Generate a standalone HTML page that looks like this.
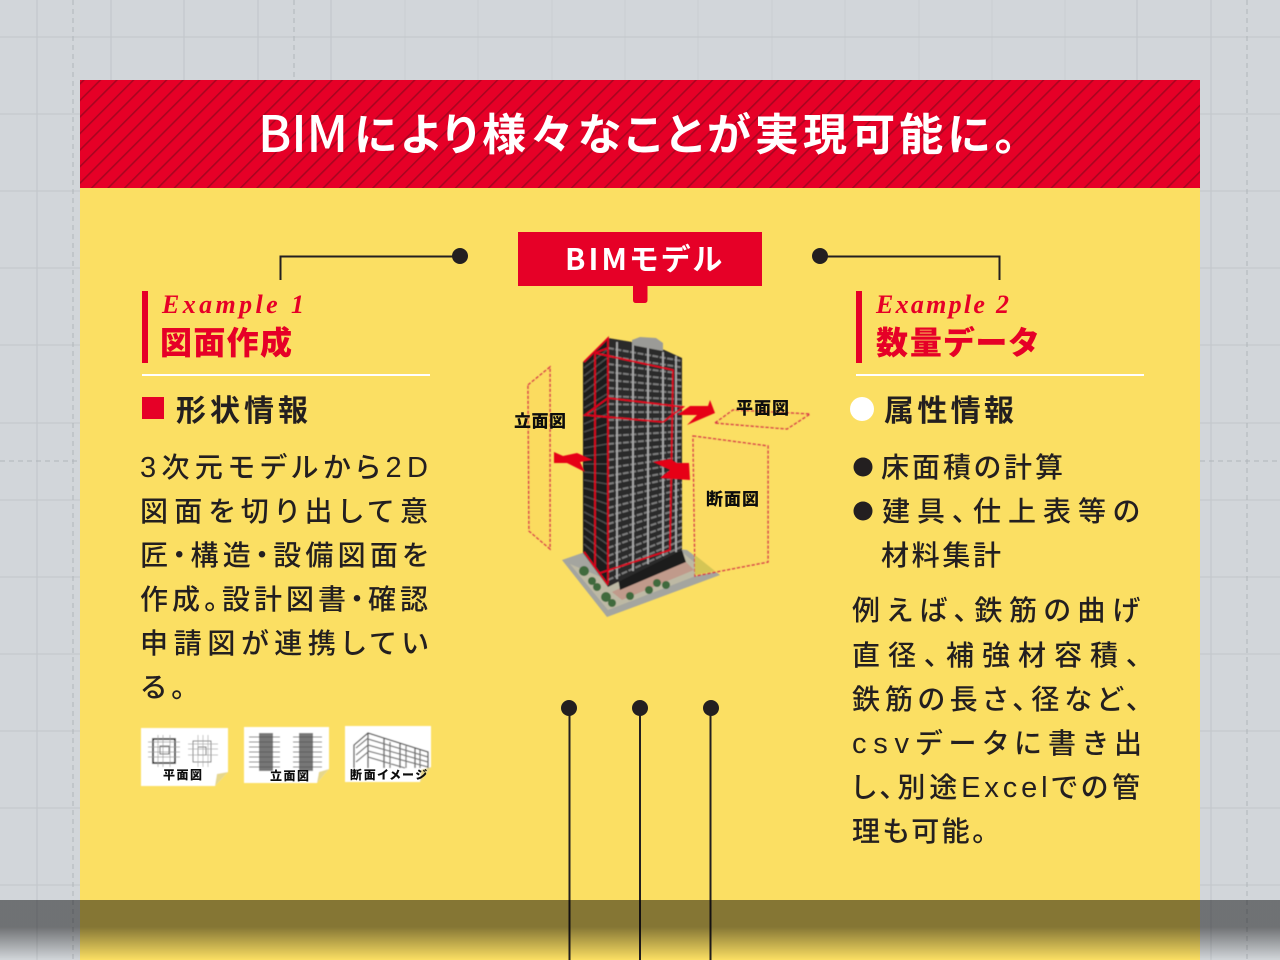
<!DOCTYPE html>
<html lang="ja"><head><meta charset="utf-8"><title>BIM</title>
<style>
html,body{margin:0;padding:0;width:1280px;height:960px;overflow:hidden;background:#d2d6da}
svg{display:block}
text{font-family:"Noto Sans CJK JP",sans-serif;font-feature-settings:"palt"}
.b{font-size:28px;fill:#231f20;font-weight:500}
.a{font-family:"Liberation Sans",sans-serif;font-size:29px}
.h{font-size:30px;fill:#231f20;font-weight:700}
.r{font-size:32px;fill:#e60027;font-weight:900}
.e{font-family:"Liberation Serif",serif;font-style:italic;font-weight:700;font-size:26px;fill:#e60027}
.l{font-size:17px;font-weight:900;fill:#111}
.t{font-size:12px;font-weight:900;fill:#111}
</style></head><body>
<svg width="1280" height="960" viewBox="0 0 1280 960" xmlns="http://www.w3.org/2000/svg">
<defs>
<pattern id="st" width="11.7" height="11.7" patternUnits="userSpaceOnUse" patternTransform="rotate(45 80 80)">
<rect width="11.7" height="11.7" fill="#e60027"/><rect x="0" width="1.6" height="11.7" fill="#a90520"/>
</pattern>
<linearGradient id="sh" x1="0" y1="0" x2="0" y2="1">
<stop offset="0" stop-color="#000" stop-opacity=".47"/><stop offset=".45" stop-color="#000" stop-opacity=".47"/><stop offset="1" stop-color="#000" stop-opacity="0"/>
</linearGradient>
<filter id="bl" x="-5%" y="-5%" width="110%" height="110%"><feGaussianBlur stdDeviation=".6"/></filter>
<filter id="bs" x="-5%" y="-5%" width="110%" height="110%"><feGaussianBlur stdDeviation=".45"/></filter>
<filter id="bt" x="-5%" y="-10%" width="110%" height="120%"><feGaussianBlur stdDeviation=".3"/></filter>
</defs>

<!-- background grid -->
<rect width="1280" height="960" fill="#d2d6da"/>
<path d="M37 0V960M111 0V960M184 0V960M258 0V960M331 0V80M1137 0V80M1211 0V960" stroke="#c0c4c9" stroke-width="1"/>
<path d="M405 0V80M478 0V80M552 0V80M625 0V80M698 0V80M772 0V80M845 0V80M919 0V80M992 0V80M1065 0V80" stroke="#c9cdd1" stroke-width="1"/>
<path d="M0 37H1280M0 114H80M1200 114H1280M0 191H80M1200 191H1280M0 268H80M1200 268H1280M0 345H80M1200 345H1280M0 423H80M1200 423H1280M0 500H80M1200 500H1280M0 577H80M1200 577H1280M0 654H80M1200 654H1280M0 731H80M1200 731H1280M0 808H80M1200 808H1280M0 885H80M1200 885H1280" stroke="#c2c6cb" stroke-width="1"/>
<path d="M73 0V960M1247 0V960M294 0V80M0 461H80M1200 461H1280" stroke="#b0b5ba" stroke-width="1" stroke-dasharray="5 4" fill="none"/>

<!-- panel -->
<rect x="80" y="80" width="1120" height="880" fill="#fbdf63"/>
<rect x="80" y="80" width="1120" height="108" fill="url(#st)"/>
<text x="258" y="152" font-size="50" fill="#fff" font-weight="500" textLength="90" lengthAdjust="spacing">BIM</text>
<text x="354" y="150" font-size="44" fill="#fff" font-weight="700" textLength="662" lengthAdjust="spacing">により様々なことが実現可能に。</text>

<!-- connectors -->
<path d="M280.500 280V256.500H460" fill="none" stroke="#231f20" stroke-width="2"/>
<circle cx="460" cy="256" r="8" fill="#231f20"/>
<path d="M999.500 280V256.500H820" fill="none" stroke="#231f20" stroke-width="2"/>
<circle cx="820" cy="256" r="8" fill="#231f20"/>
<path d="M569.500 708V960M640 708V960M710.500 708V960" stroke="#231f20" stroke-width="2"/>
<circle cx="569" cy="708" r="8" fill="#231f20"/><circle cx="640" cy="708" r="8" fill="#231f20"/><circle cx="711" cy="708" r="8" fill="#231f20"/>

<!-- BIM model label -->
<path d="M518 232H762V286H647.500V300Q647.500 303 644.500 303H636Q633 303 633 300V286H518Z" fill="#e60027"/>
<text x="565" y="270" font-size="30" font-weight="700" fill="#fff" textLength="157" lengthAdjust="spacing">BIMモデル</text>

<!-- Example 1 -->
<rect x="142" y="291" width="6" height="72" fill="#e60027"/>
<text x="162" y="313" class="e" textLength="142" lengthAdjust="spacing">Example 1</text>
<text x="160" y="354" class="r" textLength="132" lengthAdjust="spacing">図面作成</text>
<rect x="142" y="374" width="288" height="2" fill="#fff"/>
<rect x="142" y="397" width="22" height="22" fill="#e60027"/>
<text x="176" y="421" class="h" textLength="132" lengthAdjust="spacing">形状情報</text>
<text x="140" y="477" class="b" textLength="288" lengthAdjust="spacing"><tspan class="a">3</tspan>次元モデルから<tspan class="a">2D</tspan></text>
<text x="140" y="521" class="b" textLength="288" lengthAdjust="spacing">図面を切り出して意</text>
<text x="140" y="565" class="b" textLength="288" lengthAdjust="spacing">匠・構造・設備図面を</text>
<text x="140" y="609" class="b" textLength="288" lengthAdjust="spacing">作成。設計図書・確認</text>
<text x="140" y="653" class="b" textLength="288" lengthAdjust="spacing">申請図が連携してい</text>
<text x="141" y="697" class="b" textLength="44" lengthAdjust="spacing">る。</text>

<!-- thumbnails -->
<g filter="url(#bs)">
<path d="M141 728H228V772L215 786H141Z" fill="#fff"/>
<path d="M228 772L215 786L217 774Z" fill="#e6d78c"/>
<g fill="none" stroke="#555" stroke-width="1">
<rect x="153" y="739" width="22" height="24" stroke-width="1.800" stroke="#333"/><rect x="160" y="746" width="9" height="8" stroke="#555"/>
<path d="M148 742H180M148 747H180M148 752H180M148 757H180M158 735V767M163 735V767M170 735V767" stroke="#999" stroke-width=".7"/>
<rect x="193" y="741" width="18" height="21" stroke="#777"/><rect x="198" y="747" width="8" height="8" stroke="#666"/>
<path d="M188 744H218M188 749H218M188 755H218M198 735V767M203 735V767M208 735V767" stroke="#aaa" stroke-width=".7"/>
</g>
<path d="M244 727H329V769L317 783H244Z" fill="#fff"/>
<path d="M329 769L317 783L319 772Z" fill="#e6d78c"/>
<rect x="259" y="733" width="14" height="38" fill="#777"/><rect x="299" y="733" width="14" height="38" fill="#777"/>
<path d="M249 737H280M249 742H280M249 747H280M249 752H280M249 757H280M249 762H280M249 767H280M293 737H322M293 742H322M293 747H322M293 752H322M293 757H322M293 762H322M293 767H322" stroke="#555" stroke-width=".8"/>
<path d="M345 726H431V767L420 782H345Z" fill="#fff"/>
<path d="M431 767L420 782L421 770Z" fill="#e6d78c"/>
<g fill="none" stroke="#555" stroke-width="1.300">
<path d="M354 768V745L368 733L428 752V768M368 733V768M384 738V768M400 743V768M415 748V768"/>
<path d="M368 739L428 757M368 745L428 762M368 751L428 767M368 757L405 768M356 748L368 738M356 755L368 745M356 762L368 752M384 740V768M390 742V768M406 746V768M420 750V768" stroke="#777"/>
</g>
</g>
<g filter="url(#bt)">
<text x="163" y="779" class="t" textLength="39" lengthAdjust="spacing">平面図</text>
<text x="270" y="780" class="t" textLength="39" lengthAdjust="spacing">立面図</text>
<text x="350" y="779" class="t" textLength="77" lengthAdjust="spacing">断面イメージ</text>
</g>

<!-- building -->
<g filter="url(#bl)">
<path d="M562 560L607 617L720 575L687 550L640 545L585 552Z" fill="#a4a59f"/>
<path d="M570 564L608 610L706 572L682 552L608 580Z" fill="#bdb9a4"/>
<path d="M612 592L682 558L694 570L622 600Z" fill="#c09a8b"/>
<path d="M618 578L682 550L686 562L620 590Z" fill="#1e1e1e"/>
<g fill="#3f6a3c">
<circle cx="584" cy="571" r="5"/><circle cx="592" cy="581" r="4"/><circle cx="597" cy="587" r="4"/><circle cx="606" cy="597" r="5"/><circle cx="612" cy="603" r="4"/><circle cx="630" cy="596" r="4"/><circle cx="649" cy="590" r="4"/><circle cx="657" cy="583" r="4"/><circle cx="666" cy="585" r="4"/>
</g>
<path d="M608 338L583 362V553L608 587Z" fill="#1d1d1d"/>
<path d="M608 338L632 342L660 348L682 358V550L608 587Z" fill="#2b2b2b"/>
<path d="M632 340L640 337L656 338L663 343V351L632 345Z" fill="#9b9b97"/>
<g fill="none" stroke="#7a7a7a" stroke-width="2" stroke-dasharray="6 1.500">
<path d="M608 348L682 361M608 356L682 367.400M608 364L682 373.800M608 372L682 380.200M608 380L682 386.600M608 388L682 393M608 396L682 399.400M608 404L682 405.800M608 412L682 412.200M608 420L682 418.600M608 428L682 425M608 436L682 431.400M608 444L682 437.800M608 452L682 444.200M608 460L682 450.600M608 468L682 457M608 476L682 463.400M608 484L682 469.800M608 492L682 476.200M608 500L682 482.600M608 508L682 489M608 516L682 495.400M608 524L682 501.800M608 532L682 508.200M608 540L682 514.600M608 548L682 521M608 556L682 527.400M608 564L682 533.800M608 572L682 540.200M608 580L682 546.600"/>
</g>
<path d="M617 342V579M633 345V571M648 348V564M663 352V556M676 356V552" stroke="#aaa" stroke-width="1.800" fill="none"/>
<path d="M584 368L607 350M584 376L607 358M584 384L607 366M584 392L607 374M584 400L607 384M584 408L607 394M584 416L607 404M584 424L607 414M584 432L607 424M584 440L607 434M584 448L607 444M584 456L607 454M584 464L607 464M584 472L607 474M584 480L607 484M584 488L607 494M584 496L607 504M584 504L607 514M584 512L607 524M584 520L607 534M584 528L607 544M584 536L607 554M584 544L607 564" stroke="#4a4a4a" stroke-width="1.600" fill="none"/>
<g fill="none" stroke="#e2001e" stroke-width="1.700">
<path d="M584 362L608 338V583M595 353V568M595 353L673 370L670 550L600 573M584 552L608 585M595 353L608 348"/>
<path d="M585 415L608 398L683 407L663 422Z"/>
</g>
</g>
<g filter="url(#bs)">
<path d="M528 385L550 367V549L529 531Z" fill="#fbdb5e" stroke="#d8324a" stroke-width="1.400" stroke-dasharray="3.500 1.500"/>
<path d="M715 423L733 410L810 414L787 429Z" fill="#fbdb5e" stroke="#d8324a" stroke-width="1.400" stroke-dasharray="3.500 1.500"/>
<path d="M693 436L768 446V562L695 576Z" fill="#fbdc64" stroke="#d8324a" stroke-width="1.400" stroke-dasharray="3.500 1.500"/>
<path d="M695 555L695 575L715 571Z" fill="#d4c555"/>
<path d="M677 415L690 406L708 406L710 400L715 413L687 425L697 415Z" fill="#e60018"/>
<path d="M554 452L563 456L577 453L593 460L580 462L585 472L567 463L554 463Z" fill="#e60018"/>
<path d="M653 462L670 459L677 463L689 463L690 480L660 478L670 470Z" fill="#e60018"/>
</g>
<g filter="url(#bt)">
<text x="514" y="427" class="l" textLength="52" lengthAdjust="spacing">立面図</text>
<text x="736" y="414" class="l" textLength="53" lengthAdjust="spacing">平面図</text>
<text x="706" y="505" class="l" textLength="53" lengthAdjust="spacing">断面図</text>
</g>

<!-- Example 2 -->
<rect x="856" y="291" width="6" height="72" fill="#e60027"/>
<text x="876" y="313" class="e" textLength="133" lengthAdjust="spacing">Example 2</text>
<text x="876" y="354" class="r" textLength="162" lengthAdjust="spacing">数量データ</text>
<rect x="856" y="374" width="288" height="2" fill="#fff"/>
<circle cx="862" cy="409" r="12" fill="#fff"/>
<text x="884" y="421" class="h" textLength="130" lengthAdjust="spacing">属性情報</text>
<circle cx="863" cy="467" r="9.500" fill="#231f20"/>
<circle cx="863" cy="511" r="9.500" fill="#231f20"/>
<text x="881" y="477" class="b" textLength="182" lengthAdjust="spacing">床面積の計算</text>
<text x="882" y="521" class="b" textLength="258" lengthAdjust="spacing">建具、仕上表等の</text>
<text x="881" y="565" class="b" textLength="120" lengthAdjust="spacing">材料集計</text>
<text x="852" y="620" class="b" textLength="288" lengthAdjust="spacing">例えば、鉄筋の曲げ</text>
<text x="852" y="665" class="b" textLength="288" lengthAdjust="spacing">直径、補強材容積、</text>
<text x="852" y="709" class="b" textLength="288" lengthAdjust="spacing">鉄筋の長さ、径など、</text>
<text x="852" y="753" class="b" textLength="290" lengthAdjust="spacing"><tspan class="a">csv</tspan>データに書き出</text>
<text x="852" y="797" class="b" textLength="288" lengthAdjust="spacing">し、別途<tspan class="a">Excel</tspan>での管</text>
<text x="852" y="841" class="b" textLength="134" lengthAdjust="spacing">理も可能。</text>

<!-- bottom shadow -->
<rect x="0" y="900" width="1280" height="60" fill="url(#sh)"/>
</svg>
</body></html>
